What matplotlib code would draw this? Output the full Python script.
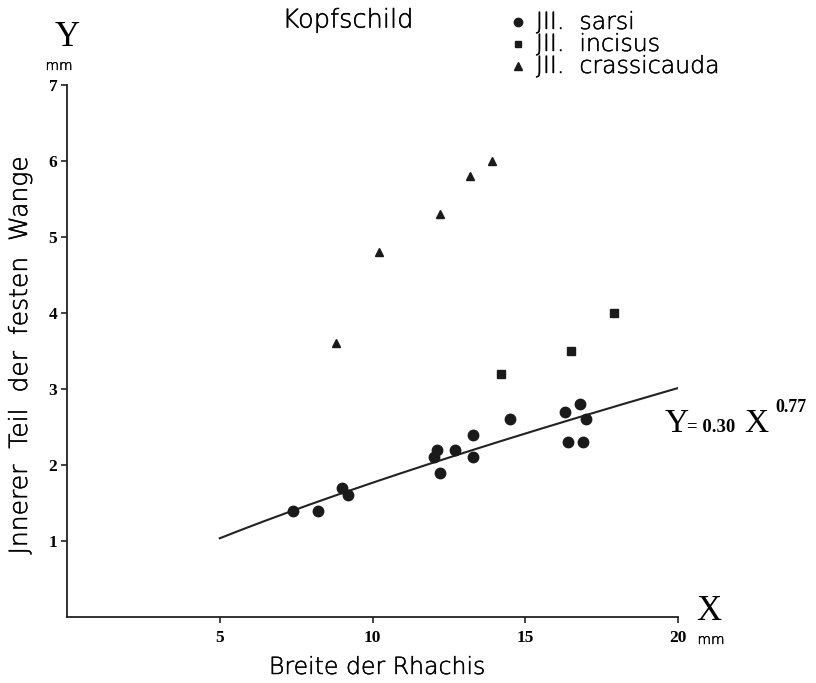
import numpy as np
import matplotlib
matplotlib.use("Agg")
import matplotlib.pyplot as plt
from matplotlib.lines import Line2D
import matplotlib.patheffects as pe

# --- data ---
sarsi_x = [7.4, 8.2, 9.0, 9.2, 12.1, 12.0, 12.2, 12.7, 13.3, 13.3, 14.5, 16.3, 16.8, 17.0, 16.4, 16.9]
sarsi_y = [1.4, 1.4, 1.7, 1.6, 2.2, 2.1, 1.9, 2.2, 2.4, 2.1, 2.6, 2.7, 2.8, 2.6, 2.3, 2.3]
incisus_x = [14.2, 16.5, 17.9]
incisus_y = [3.2, 3.5, 4.0]
crass_x = [8.8, 10.2, 12.2, 13.2, 13.9]
crass_y = [3.6, 4.8, 5.3, 5.8, 6.0]
fit_coef = 0.30
fit_exp = 0.77
fit_range = [5, 20]
xticks = [5, 10, 15, 20]
yticks = [1, 2, 3, 4, 5, 6, 7]
labels = ["JII.  sarsi", "JII.  incisus", "JII.  crassicauda"]

sans = "DejaVu Sans"
sw = "light"
serif = "Liberation Serif"
ink = "#1a1a1a"
thick = [pe.withStroke(linewidth=0.35, foreground="#111111")]

fig = plt.figure(figsize=(8.16, 6.83), dpi=100)
ax = fig.add_axes([67/816, 66/683, 611/816, 532/683])
ax.set_xlim(0, 20)
ax.set_ylim(0, 7)
for s in ["top", "right"]:
    ax.spines[s].set_visible(False)
for s in ["left", "bottom"]:
    ax.spines[s].set_linewidth(1.3)
    ax.spines[s].set_color("#222222")

ax.set_xticks(xticks)
ax.set_yticks(yticks)
ax.set_xticklabels([str(t) for t in xticks], family=serif, weight="bold", fontsize=12.5)
ax.set_yticklabels([str(t) for t in yticks], family=serif, weight="bold", fontsize=12.5)
ax.tick_params(axis="x", length=4, width=1.2, color="#222222", pad=5)
ax.tick_params(axis="y", length=4, width=1.2, color="#222222", pad=3)

xf = np.linspace(fit_range[0], fit_range[1], 200)
ax.plot(xf, fit_coef * xf ** fit_exp, color="#222222", lw=1.5)

ax.plot(sarsi_x, sarsi_y, "o", color=ink, ms=7.5, clip_on=False)
ax.plot(incisus_x, incisus_y, "s", color=ink, ms=5.5, clip_on=False)
ax.plot(crass_x, crass_y, "^", color=ink, ms=6, clip_on=False)

# axis letters
fig.text(67/816, 1 - 38/683, "Y", family=serif, fontsize=25, ha="center", va="center")
fig.text(59/816, 1 - 66/683, "mm", family=sans, weight=sw, fontsize=10, ha="center",
         va="center", path_effects=thick)
fig.text(709/816, 1 - 612/683, "X", family=serif, fontsize=25, ha="center", va="center")
fig.text(711/816, 1 - 640/683, "mm", family=sans, weight=sw, fontsize=10, ha="center",
         va="center", path_effects=thick)

# labels
fig.text(377/816, 1 - 667/683, "Breite der Rhachis", family=sans, weight=sw, fontsize=17,
         ha="center", va="center", path_effects=thick)
fig.text(20/816, 1 - 355/683, "Jnnerer  Teil  der  festen  Wange", family=sans, weight=sw,
         fontsize=18, ha="center", va="center", rotation=90, path_effects=thick)
fig.text(348/816, 1 - 20/683, "Kopfschild", family=sans, weight=sw, fontsize=18.5,
         ha="center", va="center", path_effects=thick)

# legend
leg_markers = ["o", "s", "^"]
leg_ms = [6, 5, 5.5]
for i, (m, lab) in enumerate(zip(leg_markers, labels)):
    yy = 1 - (22 + 22 * i) / 683
    fig.lines.append(Line2D([518/816], [yy], marker=m, color=ink,
                            ms=leg_ms[i], transform=fig.transFigure))
    fig.text(536/816, yy, lab, family=sans, weight=sw, fontsize=17, ha="left",
             va="center", path_effects=thick)

# equation
fig.text(665/816, 1 - 424/683, "Y", family=serif, fontsize=24, ha="left", va="center")
fig.text(687/816, 1 - 428/683, "= 0.30", family=serif, fontsize=13.5, weight="bold",
         ha="left", va="center")
fig.text(744/816, 1 - 424/683, "X", family=serif, fontsize=24, ha="left", va="center")
fig.text(775/816, 1 - 407/683, "0.77", family=serif, fontsize=13, weight="bold",
         ha="left", va="center")

fig.savefig("out.png", dpi=100, facecolor="white")
